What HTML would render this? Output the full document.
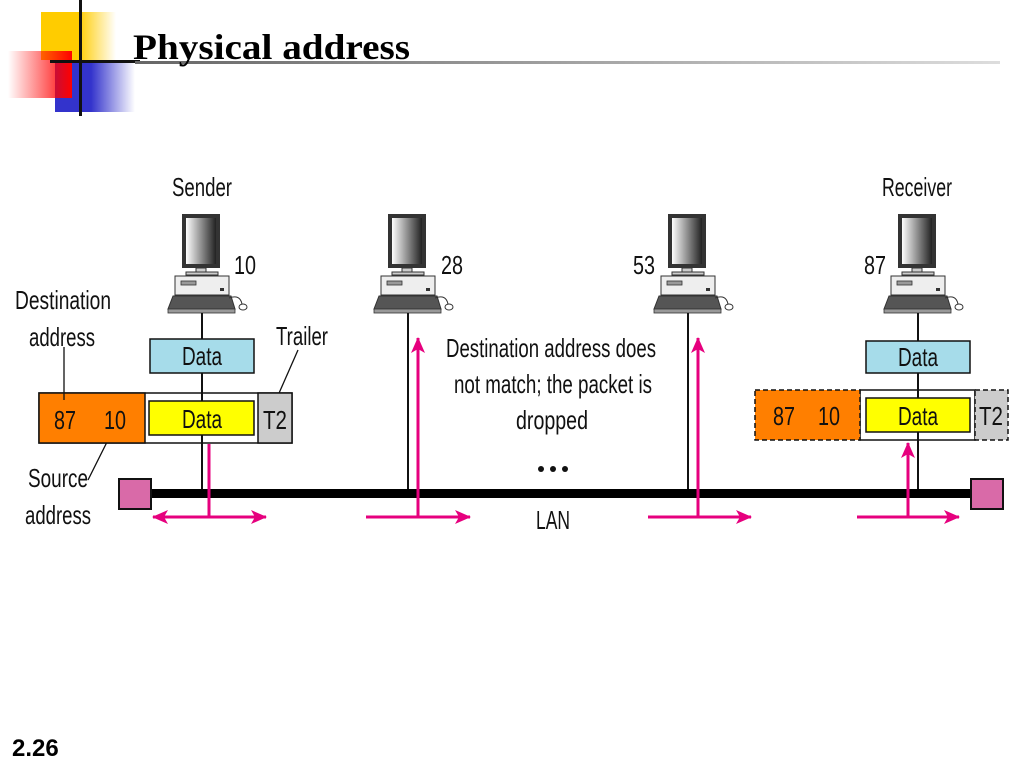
<!DOCTYPE html>
<html><head><meta charset="utf-8"><style>
html,body{margin:0;padding:0;background:#fff;width:1024px;height:768px;overflow:hidden}
</style></head><body>
<svg width="1024" height="768" viewBox="0 0 1024 768" xmlns="http://www.w3.org/2000/svg">
<defs>
<linearGradient id="gy" x1="0" x2="1"><stop offset="0.5" stop-color="#ffcc00"/><stop offset="1" stop-color="#ffcc00" stop-opacity="0"/></linearGradient>
<linearGradient id="gr" x1="0" x2="1"><stop offset="0" stop-color="#ff0000" stop-opacity="0"/><stop offset="1" stop-color="#ff0000"/></linearGradient>
<linearGradient id="gb" x1="0" x2="1"><stop offset="0.45" stop-color="#3333cc"/><stop offset="1" stop-color="#3333cc" stop-opacity="0"/></linearGradient>
<linearGradient id="gl" x1="0" x2="1"><stop offset="0" stop-color="#666"/><stop offset="1" stop-color="#ddd"/></linearGradient>
<linearGradient id="scr" x1="0" x2="1"><stop offset="0" stop-color="#fff"/><stop offset="1" stop-color="#222"/></linearGradient>
<marker id="ah" markerWidth="16" markerHeight="14" refX="15" refY="7" orient="auto" markerUnits="userSpaceOnUse"><path d="M0,0 L16,7 L0,14 L4,7 Z" fill="#e6007e"/></marker>
<g id="pc">
<rect x="-20" y="0" width="38" height="54" fill="#333"/>
<rect x="-16" y="4" width="30" height="46" fill="url(#scr)"/>
<rect x="-6" y="54" width="10" height="5" fill="#ccc" stroke="#333" stroke-width="1"/>
<rect x="-16" y="58" width="32" height="3" fill="#ccc" stroke="#333" stroke-width="1"/>
<rect x="-27" y="62" width="54" height="19" fill="#eee" stroke="#333" stroke-width="1"/>
<rect x="-21" y="67" width="15" height="4" fill="#999" stroke="#333" stroke-width="0.8"/>
<rect x="18" y="74" width="4" height="3" fill="#333"/>
<path d="M-29,82 L29,82 L33,95 L-34,95 Z" fill="#555" stroke="#333"/>
<rect x="-34" y="95" width="67" height="4" fill="#999" stroke="#333" stroke-width="0.8"/>
<path d="M27,84 Q38,80 40,90" fill="none" stroke="#333"/>
<ellipse cx="41" cy="93" rx="4" ry="3" fill="#fff" stroke="#333"/>
</g>
</defs>

<!-- logo -->
<rect x="41" y="12" width="75" height="48" fill="url(#gy)"/>
<rect x="55" y="63" width="80" height="49" fill="url(#gb)"/>
<rect x="8" y="51" width="64" height="47" fill="url(#gr)"/>
<rect x="79" y="0" width="3" height="116" fill="#111"/>
<rect x="50" y="60" width="90" height="3" fill="#111"/>
<rect x="135" y="61" width="865" height="3" fill="url(#gl)"/>
<text x="133" y="59" font-family="Liberation Serif,serif" font-weight="bold" font-size="36" textLength="277" lengthAdjust="spacingAndGlyphs">Physical address</text>

<g font-family="Liberation Sans,sans-serif" font-size="26" fill="#111">
<text x="202" y="196" text-anchor="middle" textLength="60" lengthAdjust="spacingAndGlyphs">Sender</text>
<text x="917" y="196" text-anchor="middle" textLength="70" lengthAdjust="spacingAndGlyphs">Receiver</text>
<text x="234" y="274" textLength="22" lengthAdjust="spacingAndGlyphs">10</text>
<text x="441" y="274" textLength="22" lengthAdjust="spacingAndGlyphs">28</text>
<text x="633" y="274" textLength="22" lengthAdjust="spacingAndGlyphs">53</text>
<text x="864" y="274" textLength="22" lengthAdjust="spacingAndGlyphs">87</text>
<text x="15" y="309" textLength="96" lengthAdjust="spacingAndGlyphs">Destination</text>
<text x="29" y="346" textLength="66" lengthAdjust="spacingAndGlyphs">address</text>
<text x="276" y="345" textLength="52" lengthAdjust="spacingAndGlyphs">Trailer</text>
<text x="28" y="487" textLength="60" lengthAdjust="spacingAndGlyphs">Source</text>
<text x="25" y="524" textLength="66" lengthAdjust="spacingAndGlyphs">address</text>
<text x="551" y="357" text-anchor="middle" textLength="210" lengthAdjust="spacingAndGlyphs">Destination address does</text>
<text x="553" y="393" text-anchor="middle" textLength="198" lengthAdjust="spacingAndGlyphs">not match; the packet is</text>
<text x="552" y="429" text-anchor="middle" textLength="72" lengthAdjust="spacingAndGlyphs">dropped</text>
<text x="553" y="529" text-anchor="middle" textLength="34" lengthAdjust="spacingAndGlyphs">LAN</text>
</g>
<circle cx="541" cy="469" r="3" fill="#111"/><circle cx="553" cy="469" r="3" fill="#111"/><circle cx="565" cy="469" r="3" fill="#111"/>

<use href="#pc" x="202" y="214"/>
<use href="#pc" x="408" y="214"/>
<use href="#pc" x="688" y="214"/>
<use href="#pc" x="918" y="214"/>

<g stroke="#111" stroke-width="2">
<line x1="202" y1="313" x2="202" y2="490"/>
<line x1="408" y1="313" x2="408" y2="490"/>
<line x1="688" y1="313" x2="688" y2="490"/>
<line x1="918" y1="313" x2="918" y2="490"/>
<line x1="64" y1="347" x2="64" y2="400" stroke-width="1.3"/>
<line x1="108" y1="440" x2="88" y2="480" stroke-width="1.3"/>
<line x1="298" y1="350" x2="276" y2="400" stroke-width="1.3"/>
</g>

<g font-family="Liberation Sans,sans-serif" font-size="26" fill="#111">
<rect x="150" y="339" width="104" height="34" fill="#a6dcea" stroke="#111" stroke-width="1.5"/>
<text x="202" y="365" text-anchor="middle" textLength="40" lengthAdjust="spacingAndGlyphs">Data</text>
<rect x="39" y="393" width="253" height="50" fill="#fff" stroke="#111" stroke-width="1.5"/>
<rect x="39" y="393" width="106" height="50" fill="#ff7f00" stroke="#111" stroke-width="1.5"/>
<rect x="258" y="393" width="34" height="50" fill="#ccc" stroke="#111" stroke-width="1.5"/>
<rect x="149" y="401" width="105" height="34" fill="#ffff00" stroke="#111" stroke-width="1.5"/>
<line x1="64" y1="393" x2="64" y2="400" stroke="#111" stroke-width="1.3"/>
<text x="202" y="428" text-anchor="middle" textLength="40" lengthAdjust="spacingAndGlyphs">Data</text>
<text x="54" y="429" textLength="22" lengthAdjust="spacingAndGlyphs">87</text>
<text x="104" y="429" textLength="22" lengthAdjust="spacingAndGlyphs">10</text>
<text x="263" y="429" textLength="24" lengthAdjust="spacingAndGlyphs">T2</text>

<rect x="866" y="341" width="104" height="32" fill="#a6dcea" stroke="#111" stroke-width="1.5"/>
<text x="918" y="366" text-anchor="middle" textLength="40" lengthAdjust="spacingAndGlyphs">Data</text>
<rect x="860" y="390" width="115" height="50" fill="#fff" stroke="#111" stroke-width="1.5"/>
<rect x="755" y="390" width="105" height="50" fill="#ff7f00" stroke="#111" stroke-width="1.5" stroke-dasharray="5,3"/>
<rect x="975" y="390" width="33" height="50" fill="#ccc" stroke="#111" stroke-width="1.5" stroke-dasharray="5,3"/>
<rect x="866" y="398" width="104" height="34" fill="#ffff00" stroke="#111" stroke-width="1.5"/>
<text x="918" y="425" text-anchor="middle" textLength="40" lengthAdjust="spacingAndGlyphs">Data</text>
<text x="773" y="425" textLength="22" lengthAdjust="spacingAndGlyphs">87</text>
<text x="818" y="425" textLength="22" lengthAdjust="spacingAndGlyphs">10</text>
<text x="979" y="425" textLength="24" lengthAdjust="spacingAndGlyphs">T2</text>
</g>
<line x1="918" y1="373" x2="918" y2="398" stroke="#111" stroke-width="2"/>
<line x1="918" y1="432" x2="918" y2="490" stroke="#111" stroke-width="2"/>
<line x1="202" y1="373" x2="202" y2="401" stroke="#111" stroke-width="2"/>
<line x1="202" y1="435" x2="202" y2="490" stroke="#111" stroke-width="2"/>
<line x1="202" y1="313" x2="202" y2="339" stroke="#111" stroke-width="2"/>
<line x1="918" y1="313" x2="918" y2="341" stroke="#111" stroke-width="2"/>

<rect x="150" y="489" width="822" height="9" fill="#000"/>
<rect x="119" y="479" width="32" height="30" fill="#d96aa8" stroke="#111" stroke-width="2"/>
<rect x="971" y="479" width="32" height="30" fill="#d96aa8" stroke="#111" stroke-width="2"/>

<g stroke="#e6007e" stroke-width="3" fill="none">
<line x1="209" y1="444" x2="209" y2="517"/>
<line x1="209" y1="517" x2="153" y2="517" marker-end="url(#ah)"/>
<line x1="209" y1="517" x2="266" y2="517" marker-end="url(#ah)"/>
<line x1="366" y1="517" x2="470" y2="517" marker-end="url(#ah)"/>
<line x1="418" y1="517" x2="418" y2="338" marker-end="url(#ah)"/>
<line x1="648" y1="517" x2="751" y2="517" marker-end="url(#ah)"/>
<line x1="698" y1="517" x2="698" y2="338" marker-end="url(#ah)"/>
<line x1="857" y1="517" x2="959" y2="517" marker-end="url(#ah)"/>
<line x1="908" y1="517" x2="908" y2="443" marker-end="url(#ah)"/>
</g>

<text x="12" y="756" font-family="Liberation Sans,sans-serif" font-weight="bold" font-size="24">2.26</text>
</svg>
</body></html>
